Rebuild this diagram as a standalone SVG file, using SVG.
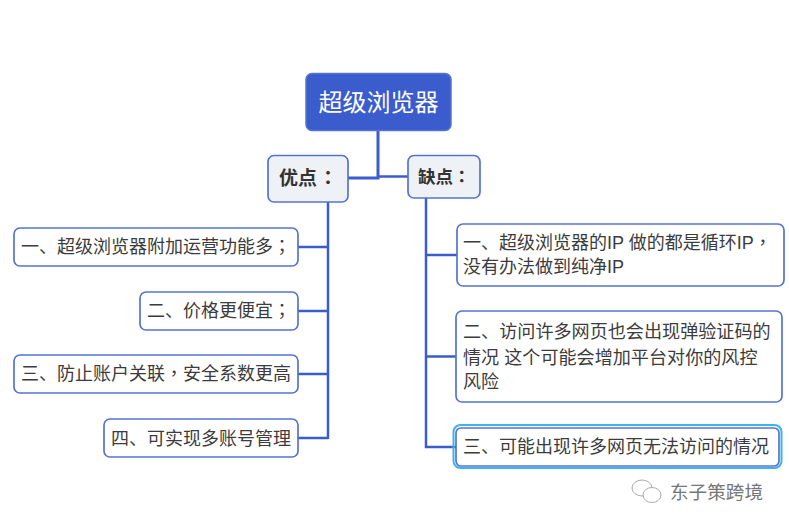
<svg xmlns="http://www.w3.org/2000/svg" width="789" height="527" viewBox="0 0 789 527">
<style>
text{font-family:"Liberation Sans","Noto Sans CJK SC",sans-serif;fill:#3c3c3c}
tspan{font-family:"Noto Sans CJK TC",sans-serif}
.c{fill:none;stroke:#3b5ccc;stroke-width:2.500}
.n{fill:#fff;stroke:#5673d3;stroke-width:1.700}
.t{font-size:18px}
.h{fill:#eef1f5;stroke:#5673d3;stroke-width:1.700}
.b{font-weight:700;fill:#333}
</style>
<rect width="789" height="527" fill="#fff"/>
<g id="connectors">
<path class="c" d="M378 131V178H348" style="stroke-width:3"/>
<path class="c" d="M378 176.500H408"/>
<path class="c" d="M328 202V439M298 247H328M298 311H328M298 374H328M298 438H328"/>
<path class="c" d="M426 198V447H456M426 255H457M426 356.500H456"/>
</g>
<g id="root"><rect x="306" y="73.500" width="145" height="57" rx="6" fill="#3b5ccc" stroke="#5673d3" stroke-width="1.500"/><text x="378.500" y="111" font-size="24" text-anchor="middle" style="fill:#fff">超级浏览器</text></g>
<g id="pro"><rect class="h" x="268" y="155.500" width="80" height="46.500" rx="6"/><text class="b" x="279" y="185" font-size="19">优点<tspan dx="1.500">：</tspan></text></g>
<g id="con"><rect class="h" x="408" y="155.500" width="72" height="42.500" rx="6"/><text class="b" x="418" y="183" font-size="17.500">缺点<tspan>：</tspan></text></g>
<g id="p1"><rect class="n" x="14" y="228" width="284" height="38" rx="6"/><text class="t" x="21" y="253">一、超级浏览器附加运营功能多<tspan>；</tspan></text></g>
<g id="p2"><rect class="n" x="140" y="292" width="158" height="38" rx="6"/><text class="t" x="147" y="317">二、价格更便宜<tspan>；</tspan></text></g>
<g id="p3"><rect class="n" x="14" y="355" width="284" height="38" rx="6"/><text class="t" x="21" y="380">三、防止账户关联<tspan>，</tspan>安全系数更高</text></g>
<g id="p4"><rect class="n" x="104" y="419" width="194" height="38" rx="6"/><text class="t" x="111" y="445">四、可实现多账号管理</text></g>
<g id="c1"><rect class="n" x="457" y="224" width="327" height="62" rx="6"/><text class="t" x="463" y="249">一、超级浏览器的IP 做的都是循环IP<tspan>，</tspan></text><text class="t" x="463" y="273">没有办法做到纯净IP</text></g>
<g id="c2"><rect class="n" x="456" y="311" width="326" height="91" rx="6"/><text x="463" y="338" font-size="18.100">二、访问许多网页也会出现弹验证码的</text><text x="463" y="364" font-size="18.100">情况 这个可能会增加平台对你的风控</text><text class="t" x="463" y="388">风险</text></g>
<g id="c3"><rect x="453.500" y="425" width="328" height="43" rx="7" fill="none" stroke="#3db4ee" stroke-width="2"/><rect class="n" x="456" y="428" width="323" height="38" rx="5"/><text class="t" x="463" y="453">三、可能出现许多网页无法访问的情况</text></g>
<g id="watermark"><g fill="#fff" stroke="#aaa" stroke-width="1"><ellipse cx="642" cy="488" rx="10" ry="8"/><ellipse cx="652" cy="495" rx="9" ry="7.500"/></g><text x="670" y="499" font-size="18.600" style="fill:#777">东子策跨境</text></g>
</svg>
